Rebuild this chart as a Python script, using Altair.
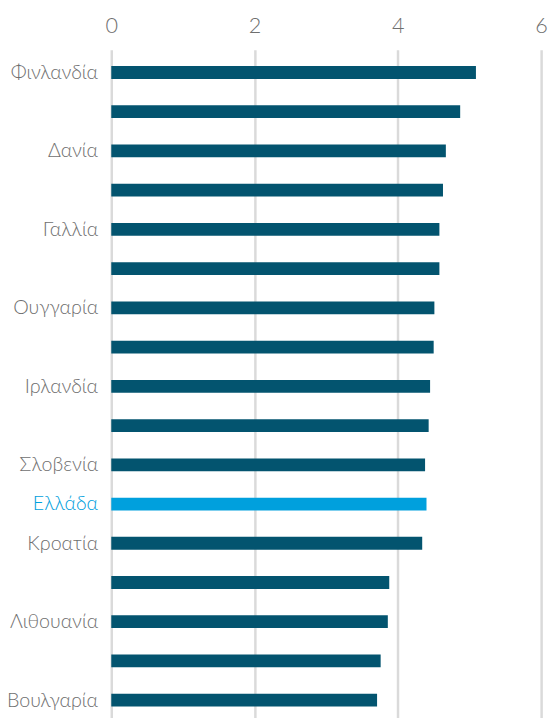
import altair as alt
import pandas as pd

labels = ["Φινλανδία", "", "Δανία", "", "Γαλλία", "", "Ουγγαρία", "", "Ιρλανδία",
          "", "Σλοβενία", "Ελλάδα", "Κροατία", "", "Λιθουανία", "", "Βουλγαρία"]
values = [5.09, 4.87, 4.67, 4.63, 4.58, 4.58, 4.51, 4.50, 4.45,
          4.43, 4.38, 4.40, 4.34, 3.88, 3.86, 3.76, 3.71]
highlight = "Ελλάδα"
x_ticks = [0, 2, 4, 6]

ranks = list(range(len(labels)))
df = pd.DataFrame({
    "rank": ranks,
    "label": labels,
    "value": values,
    "hl": ["yes" if l == highlight else "no" for l in labels],
})

label_array = "[" + ",".join("'" + l + "'" for l in labels) + "]"
hl_index = labels.index(highlight)

font = "Lato"
grey = "#6f6f6f"

chart = alt.Chart(df).mark_bar(size=13, orient="horizontal").encode(
    y=alt.Y("rank:Q",
            scale=alt.Scale(domain=[-0.457, 16.593], reverse=True, nice=False, zero=False),
            axis=alt.Axis(title=None, values=ranks, labelExpr=label_array + "[datum.value]",
                          ticks=False, domain=False, grid=False, labelFontSize=20,
                          labelFont=font, labelFontWeight=300, labelPadding=14,
                          labelBaseline="middle",
                          labelColor={"condition": {"test": f"datum.value == {hl_index}", "value": "#00A0DD"},
                                      "value": grey})),
    x=alt.X("value:Q",
            scale=alt.Scale(domain=[0, 6], nice=False),
            axis=alt.Axis(title=None, orient="top", values=x_ticks, ticks=False,
                          domain=False, grid=True, gridColor="#dadada", gridWidth=2.5,
                          labelFontSize=22, labelFont=font, labelFontWeight=300,
                          labelColor=grey, labelPadding=12, labelFlush=False)),
    x2=alt.datum(0),
    color=alt.Color("hl:N", scale=alt.Scale(domain=["no", "yes"], range=["#03546F", "#00A0DD"]),
                    legend=None),
).properties(
    width=437, height=690,
    autosize=alt.AutoSizeParams(type="none"),
    padding={"left": 105, "top": 36.3, "right": 8, "bottom": 0},
).configure_view(stroke=None)

chart.save("out.html", embed_options={"renderer": "svg", "actions": False})
